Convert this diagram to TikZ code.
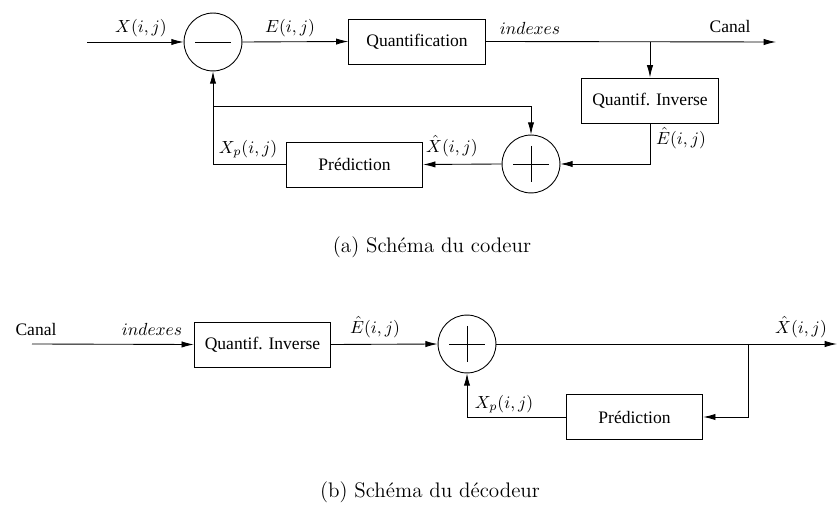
\documentclass[tikz,border=0pt]{standalone}
\usepackage{fontspec}
\newfontfamily\tfont{Liberation Serif}
\usetikzlibrary{arrows.meta}
\begin{document}
\begin{tikzpicture}[x=0.57pt,y=-0.57pt,
  line width=0.5pt,
  arr/.style={-{Latex[length=7pt,width=3.6pt]}},
  blk/.style={draw,rectangle,minimum width=77.8pt,minimum height=25.7pt,inner sep=0pt,font=\tfont\fontsize{10}{12}\selectfont},
  sumc/.style={draw,circle,minimum size=33pt,inner sep=0pt},
  lbl/.style={inner sep=0pt,font=\fontsize{10}{12}\selectfont},
  tl/.style={inner sep=0pt,font=\tfont\fontsize{10}{12}\selectfont},
  captxt/.style={inner sep=0pt,font=\fontsize{12}{14}\selectfont}]
\useasboundingbox (0,0) rectangle (838,507);
% ---------- coder ----------
\node[sumc] (m) at (213,42) {};
\draw (m.center) ++(-18,0) -- ++(36,0);
\node[blk] (Q) at (417,41.5) {Quantification};
\node[blk] (QI) at (650,100.5) {Quantif. Inverse};
\node[sumc] (p) at (531,164) {};
\draw (p.center) ++(-18,0) -- ++(36,0);
\draw (p.center) ++(0,-18) -- ++(0,36);
\node[blk] (P) at (354.5,164.5) {Prédiction};
\coordinate (in) at (87,42);
\coordinate (out) at (776,42);
\coordinate (br) at (650,42);
\coordinate (j) at (213,106);
\draw[arr] (in) -- (m.west);
\draw[arr] (m.east) -- (Q.west);
\draw[arr] (Q.east) -- (out);
\draw[arr] (br) -- (QI.north);
\draw[arr] (QI.south) |- (p.east);
\draw[arr] (p.west) -- (P.east);
\draw[arr] (P.west) -| (m.south);
\draw[arr] (j) -| (p.north);
\node[lbl] (l1) at (141,28) {$X(i,j)$};
\node[lbl] (l2) at (290,28) {$E(i,j)$};
\node[lbl] (l3) at (530,28) {$indexes$};
\node[tl] (l4) at (730,27) {Canal};
\node[lbl] (l5) at (681,138) {$\hat{E}(i,j)$};
\node[lbl] (l6) at (248,149) {$X_p(i,j)$};
\node[lbl] (l7) at (452,146) {$\hat{X}(i,j)$};
\node[captxt] (ca) at (432,247) {(a) Schéma du codeur};
% ---------- decoder ----------
\node[blk] (QI2) at (262.5,344.5) {Quantif. Inverse};
\node[sumc] (p2) at (467,344) {};
\draw (p2.center) ++(-18,0) -- ++(36,0);
\draw (p2.center) ++(0,-18) -- ++(0,36);
\node[blk] (P2) at (634.5,417) {Prédiction};
\coordinate (in2) at (32,344);
\coordinate (out2) at (837,344);
\coordinate (br2) at (748,344);
\draw[arr] (in2) -- (QI2.west);
\draw[arr] (QI2.east) -- (p2.west);
\draw[arr] (p2.east) -- (out2);
\draw[arr] (br2) |- (P2.east);
\draw[arr] (P2.west) -| (p2.south);
\node[tl] (m1) at (36,330) {Canal};
\node[lbl] (m2) at (152,329) {$indexes$};
\node[lbl] (m3) at (375,327) {$\hat{E}(i,j)$};
\node[lbl] (m4) at (801,327) {$\hat{X}(i,j)$};
\node[lbl] (m5) at (504,404) {$X_p(i,j)$};
\node[captxt] (cb) at (430,492) {(b) Schéma du décodeur};
\end{tikzpicture}
\end{document}
